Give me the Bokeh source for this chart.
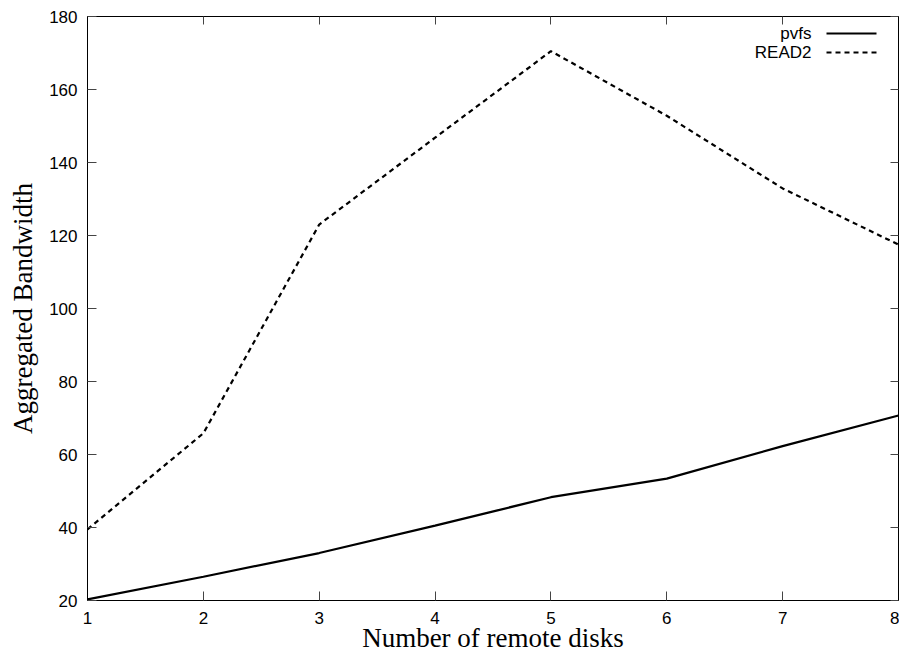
from bokeh.plotting import figure
from bokeh.models import (Range1d, LinearAxis, FixedTicker, Label, Arrow,
                          CustomLabelingPolicy)
from bokeh.embed import file_html
from bokeh.resources import INLINE

disks = [1, 2, 3, 4, 5, 6, 7, 8]
pvfs = [20.3, 26.5, 33.0, 40.5, 48.3, 53.4, 62.3, 70.7]
read2 = [39.5, 65.8, 123.0, 146.8, 170.5, 152.8, 132.9, 117.5]
x_ticks = [1, 2, 3, 4, 5, 6, 7, 8]
y_ticks = [20, 40, 60, 80, 100, 120, 140, 160, 180]
series_names = ["pvfs", "READ2"]
series_dash = ["solid", "5 4"]

p = figure(width=899, height=657, output_backend="svg", toolbar_location=None,
           x_range=Range1d(1, 8), y_range=Range1d(20, 180),
           min_border_left=87, min_border_right=1, min_border_top=16, min_border_bottom=57)

p.xgrid.visible = False
p.ygrid.visible = False
p.outline_line_color = "black"
p.outline_line_width = 1
p.background_fill_color = "white"
p.border_fill_color = "white"

tick_font = "Liberation Sans"
for ax in [p.xaxis[0], p.yaxis[0]]:
    ax.major_tick_in = 9
    ax.major_tick_out = 0
    ax.minor_tick_in = 0
    ax.minor_tick_out = 0
    ax.major_tick_line_color = "#444444"
    ax.axis_line_color = "black"
    ax.major_label_text_font = tick_font
    ax.major_label_text_font_size = "17px"
    ax.major_label_text_color = "black"
    ax.axis_label_text_font = "Liberation Serif"
    ax.axis_label_text_font_size = "27px"
    ax.axis_label_text_font_style = "normal"
    ax.axis_label_text_color = "black"

p.xaxis[0].ticker = FixedTicker(ticks=x_ticks)
p.yaxis[0].ticker = FixedTicker(ticks=y_ticks)
p.xaxis[0].axis_label = "Number of remote disks"
p.yaxis[0].axis_label = "Aggregated Bandwidth"
p.xaxis[0].major_label_standoff = 11
p.yaxis[0].major_label_standoff = 10
p.xaxis[0].axis_label_standoff = -4
p.yaxis[0].axis_label_standoff = 8

# mirrored ticks on top and right (no labels)
hide_all = CustomLabelingPolicy(code="""
for (let i = 0; i < indices.size; i++) { indices.unset(i) }
return indices
""")
top = LinearAxis(ticker=FixedTicker(ticks=x_ticks))
right = LinearAxis(ticker=FixedTicker(ticks=y_ticks))
for ax in [top, right]:
    ax.major_tick_in = 8
    ax.major_tick_out = 0
    ax.minor_tick_in = 0
    ax.minor_tick_out = 0
    ax.major_tick_line_color = "#444444"
    ax.axis_line_color = "black"
    ax.major_label_text_font_size = "0px"
    ax.major_label_standoff = 0
    ax.major_label_policy = hide_all
p.add_layout(top, "above")
p.add_layout(right, "right")

p.line(disks, pvfs, line_color="black", line_width=2.2)
p.line(disks, read2, line_color="black", line_width=2.2, line_dash="5 4")

# gnuplot-style key: text on the left, line sample on the right
for i, name in enumerate(series_names):
    yy = 567 - 19 * i
    p.add_layout(Label(x=724, y=yy, x_units="screen", y_units="screen",
                       text=name, text_align="right", text_baseline="middle",
                       text_font=tick_font, text_font_size="17px", text_color="black"))
    p.add_layout(Arrow(end=None, x_start=739, y_start=yy, x_end=789, y_end=yy,
                       start_units="screen", end_units="screen",
                       line_color="black", line_width=2.2, line_dash=series_dash[i]))

open("out.html", "w").write(file_html(p, INLINE))
